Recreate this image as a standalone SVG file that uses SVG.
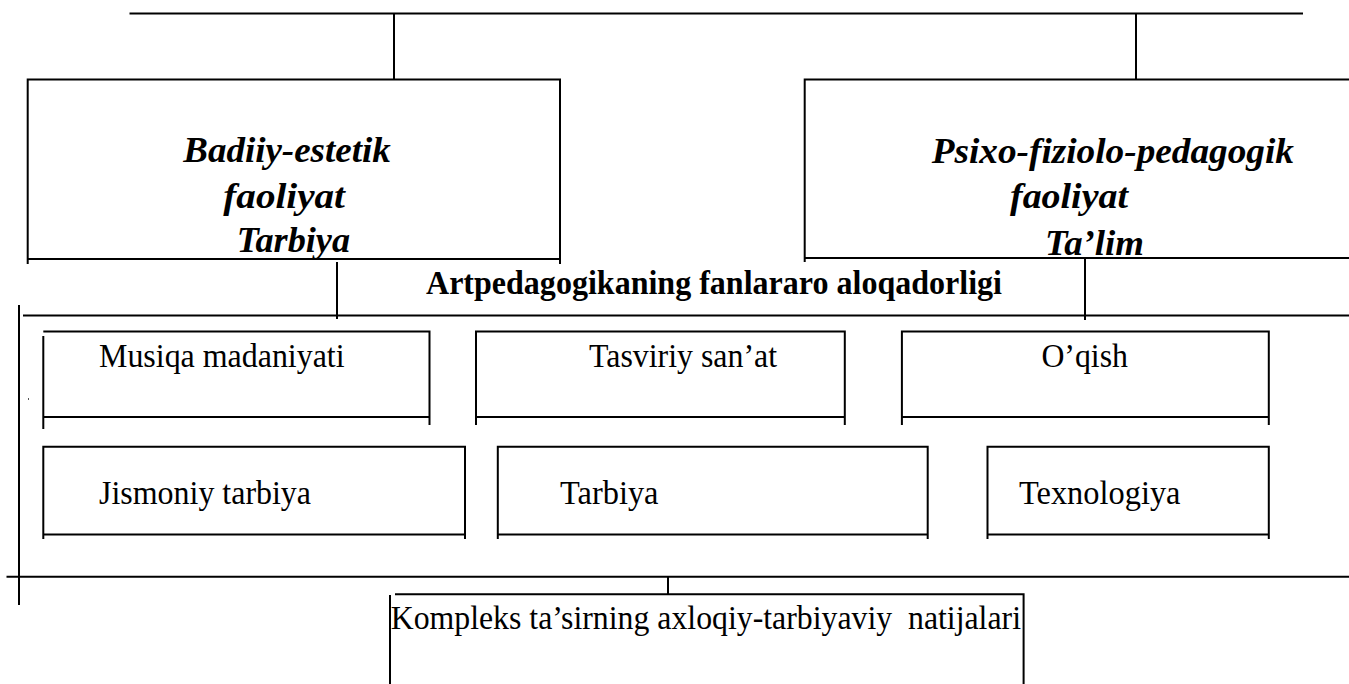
<svg xmlns="http://www.w3.org/2000/svg" width="1349" height="684" viewBox="0 0 1349 684">
<style>
.ln{fill:none;stroke:#000;stroke-width:2}
.bi{font-family:"Liberation Serif","Times New Roman",serif;font-weight:bold;font-style:italic;font-size:36px;fill:#000}
.bd{font-family:"Liberation Serif","Times New Roman",serif;font-weight:bold;font-size:33px;fill:#000}
.rg{font-family:"Liberation Serif","Times New Roman",serif;font-size:33px;fill:#000}
</style>
<rect width="1349" height="684" fill="#fff"/>
<g id="connectors" class="ln">
<path d="M129.5 13.5H1303"/>
<path d="M394 13.5V79.5"/>
<path d="M1136 13.5V79.5"/>
<path d="M337 262V319"/>
<path d="M1085 259V320"/>
<path d="M23 315.5H1349"/>
<path d="M19 305V605"/>
<path d="M6.5 576.7H1349"/>
<path d="M668 577V594.5"/>
</g>
<rect x="28" y="398" width="1" height="2" fill="#555"/>
<g id="node-badiiy">
<path class="ln" d="M27.7 264V79.5H560V264M27.7 259H560"/>
<text class="bi" x="183.3" y="161.7" textLength="207.4" lengthAdjust="spacingAndGlyphs">Badiiy-estetik</text>
<text class="bi" x="223.3" y="207.7" textLength="121.7" lengthAdjust="spacingAndGlyphs">faoliyat</text>
<text class="bi" x="236.7" y="251.7" textLength="113.3" lengthAdjust="spacingAndGlyphs">Tarbiya</text>
</g>
<g id="node-psixo">
<path class="ln" d="M804.7 262V79.5H1349M804.7 258H1349"/>
<text class="bi" x="931.7" y="162.7" textLength="362.3" lengthAdjust="spacingAndGlyphs">Psixo-fiziolo-pedagogik</text>
<text class="bi" x="1010" y="208" textLength="118" lengthAdjust="spacingAndGlyphs">faoliyat</text>
<text class="bi" x="1045" y="255" textLength="99" lengthAdjust="spacingAndGlyphs">Ta’lim</text>
</g>
<g id="title">
<text class="bd" x="426" y="294" textLength="576" lengthAdjust="spacingAndGlyphs">Artpedagogikaning fanlararo aloqadorligi</text>
</g>
<g id="node-musiqa">
<path class="ln" d="M43.3 429V336M43.3 331.5H429.5V425M43.3 417H429.5"/>
<text class="rg" x="99" y="367" textLength="245.6" lengthAdjust="spacingAndGlyphs">Musiqa madaniyati</text>
</g>
<g id="node-tasviriy">
<path class="ln" d="M476 425V331.5H844.8V425M476 417H844.8"/>
<text class="rg" x="589" y="367" textLength="188" lengthAdjust="spacingAndGlyphs">Tasviriy san’at</text>
</g>
<g id="node-oqish">
<path class="ln" d="M901.9 425V331.5H1268.8V425M901.9 417H1268.8"/>
<text class="rg" x="1041.4" y="367" textLength="86.6" lengthAdjust="spacingAndGlyphs">O’qish</text>
</g>
<g id="node-jismoniy">
<path class="ln" d="M43.3 539V446.7H465V539M43.3 534.5H465"/>
<text class="rg" x="99" y="504" textLength="212" lengthAdjust="spacingAndGlyphs">Jismoniy tarbiya</text>
</g>
<g id="node-tarbiya">
<path class="ln" d="M497.8 539V446.7H927.7V539M497.8 534.5H927.7"/>
<text class="rg" x="560" y="504" textLength="98.5" lengthAdjust="spacingAndGlyphs">Tarbiya</text>
</g>
<g id="node-texnologiya">
<path class="ln" d="M987.5 539V446.7H1268.8V539M987.5 534.5H1268.8"/>
<text class="rg" x="1019" y="504" textLength="161.5" lengthAdjust="spacingAndGlyphs">Texnologiya</text>
</g>
<g id="node-kompleks">
<path class="ln" d="M390 684V595M395 594.3H1023.6V684"/>
<text class="rg" x="390.7" y="629" textLength="630.3" lengthAdjust="spacingAndGlyphs">Kompleks ta’sirning axloqiy-tarbiyaviy&#160; natijalari</text>
</g>
</svg>
